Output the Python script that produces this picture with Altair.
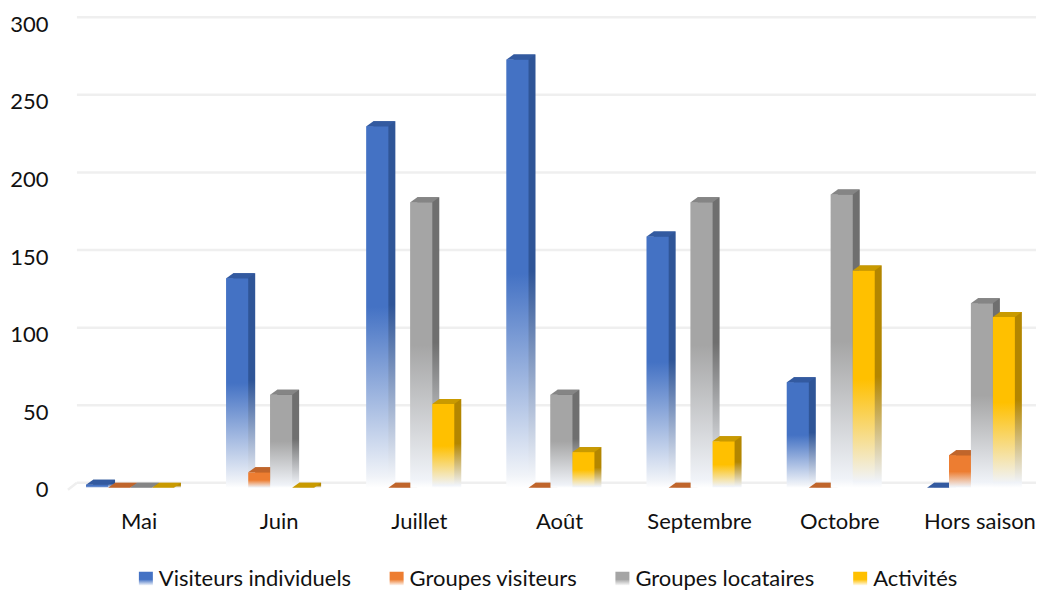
import altair as alt
import pandas as pd

months = ["Mai", "Juin", "Juillet", "Août", "Septembre", "Octobre", "Hors saison"]
series = ["Visiteurs individuels", "Groupes visiteurs", "Groupes locataires", "Activités"]
visiteurs = [2, 135, 233, 276, 162, 68, 0]
groupes_v = [0, 10, 0, 0, 0, 0, 21]
groupes_l = [0, 60, 184, 60, 184, 189, 119]
activites = [0, 0, 54, 23, 30, 140, 110]
front_colors = ["#4472c4", "#ed7d31", "#a5a5a5", "#ffc000"]
side_colors = ["#2f5597", "#ae5a21", "#6f6f6f", "#b38600"]
top_colors = ["#335aa0", "#c0652b", "#858585", "#c99a00"]
ticks = [0, 50, 100, 150, 200, 250, 300]

FONT = "Lato"
FS = 22
TEXT = "#111111"
GRID = "#efefef"
TOP_SHAPE = "M-0.759,0 L0.759,0 L1.241,-0.345 L-0.276,-0.345 Z"
STUB_SHAPE = "M-1,0.78 L1,-0.78"
W, H = 975, 466
DX, DY = 7, 5

rows = []
for s, vals in zip(series, [visiteurs, groupes_v, groupes_l, activites]):
    for m, v in zip(months, vals):
        rows.append({"mois": m, "serie": s, "valeur": v})
df = pd.DataFrame(rows)


def grad(c):
    return {
        "gradient": "linear", "x1": 0, "x2": 0, "y1": 0, "y2": 1,
        "stops": [
            {"offset": 0, "color": c},
            {"offset": 0.5, "color": c},
            {"offset": 0.97, "color": "#f0f3f8"},
            {"offset": 1, "color": "#ffffff"},
        ],
    }


def grad_expr(c):
    return alt.expr(
        "{gradient:'linear',x1:0,x2:0,y1:0,y2:1,stops:["
        f"{{offset:0,color:'{c}'}},{{offset:0.55,color:'{c}'}},{{offset:1,color:'#ffffff'}}]}}"
    )


def xenc(shift=0, axis=None, band=0.5):
    return alt.X(
        "mois:N", sort=months, title=None, bandPosition=band,
        scale=alt.Scale(type="band", domain=months, paddingInner=0.373, paddingOuter=0.1615,
                        align=0.5775, range=[shift, W + shift]),
        axis=axis,
    )


def xoffenc(band=0.5):
    return alt.XOffset(
        "serie:N", sort=series, bandPosition=band,
        scale=alt.Scale(type="band", domain=series, paddingInner=0, paddingOuter=0),
    )


x_axis = alt.Axis(labelAngle=0, labelFont=FONT, labelFontSize=FS, labelColor=TEXT,
                  labelOffset=9, labelPadding=24, ticks=False, domain=False, grid=False)
y_axis = alt.Axis(values=ticks, labelFont=FONT, labelFontSize=FS, labelColor=TEXT,
                  labelPadding=12, labelOffset=2, ticks=False, domain=False, grid=False,
                  minExtent=52, maxExtent=52)
yscale = alt.Scale(domain=[0, 300], nice=False)
y = alt.Y("valeur:Q", stack=None, title=None, scale=yscale, axis=y_axis)

grid = alt.Chart(pd.DataFrame({"valeur": ticks})).mark_rule(color=GRID, strokeWidth=2.5, yOffset=-DY).encode(
    y=y, x=alt.value(17), x2=alt.value(977),
)
stub = alt.Chart(pd.DataFrame({"valeur": [0]})).mark_point(
    shape=STUB_SHAPE, size=81, filled=False, stroke=GRID, strokeWidth=2.5, yOffset=-1.5, opacity=1
).encode(y=y, x=alt.value(12.5))

legend_layer = alt.Chart(df).mark_bar().encode(
    x=xenc(axis=x_axis), xOffset=xoffenc(), y=y,
    color=alt.Color(
        "serie:N", sort=series,
        scale=alt.Scale(domain=series, range=[grad_expr(c) for c in front_colors]),
        legend=alt.Legend(
            title=None, orient="none", legendX=75, legendY=546, direction="horizontal",
            columns=4, columnPadding=34, symbolType="square", symbolSize=196,
            labelFont=FONT, labelFontSize=FS, labelColor=TEXT, labelOffset=2,
            symbolStrokeWidth=0, labelLimit=300,
        ),
    ),
)

layers = [grid, stub, legend_layer]
for s, fc, sc, tc in zip(series, front_colors, side_colors, top_colors):
    sub = df[df["serie"] == s]
    back = alt.Chart(sub).mark_bar(fill=grad(sc), yOffset=-DY).encode(x=xenc(DX), xOffset=xoffenc(), y=y)
    front = alt.Chart(sub).mark_bar(fill=grad(fc)).encode(x=xenc(), xOffset=xoffenc(), y=y)
    top = alt.Chart(sub).mark_point(
        shape=TOP_SHAPE, size=841, filled=True, fill=tc, opacity=1, strokeWidth=0
    ).encode(x=xenc(band=0), xOffset=xoffenc(), y=y)
    layers += [back, front, top]

chart = alt.layer(*layers).resolve_scale(x="independent", xOffset="independent").properties(
    width=W, height=H,
    padding={"left": 0, "top": 5, "right": 0, "bottom": 0},
).configure_view(stroke=None)

chart.save("out.html", embed_options={"renderer": "svg", "actions": False})
